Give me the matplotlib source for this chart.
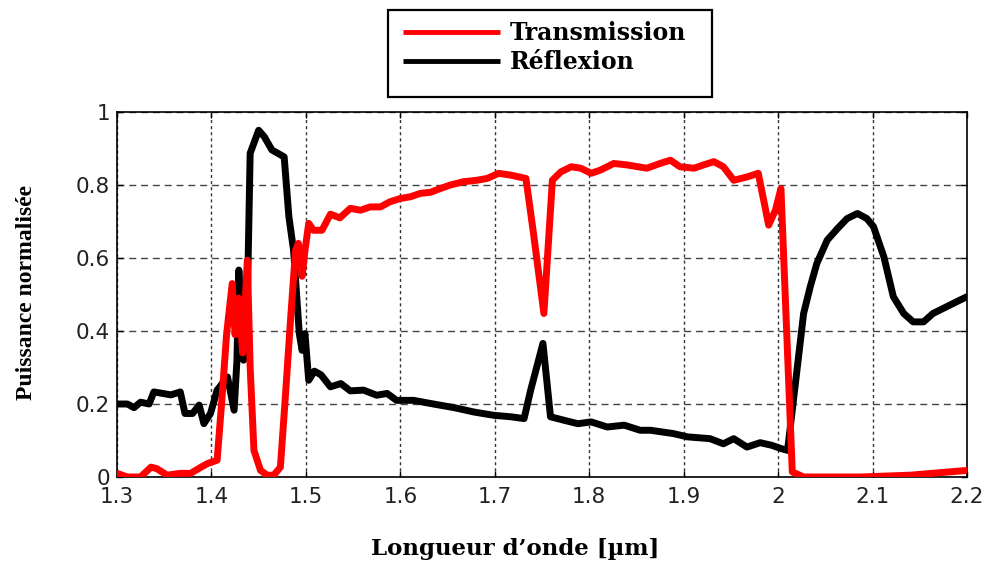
import matplotlib
matplotlib.use("Agg")
import matplotlib.pyplot as plt
from matplotlib.patches import Rectangle

# ---- data ----
wl_T = [1.300, 1.311, 1.325, 1.336, 1.342, 1.353, 1.367, 1.378, 1.389, 1.396,
        1.406, 1.411, 1.416, 1.422, 1.425, 1.429, 1.433, 1.438, 1.441, 1.445,
        1.452, 1.459, 1.466, 1.473, 1.478, 1.484, 1.489, 1.492, 1.496, 1.499,
        1.503, 1.508, 1.517, 1.526, 1.536, 1.547, 1.558, 1.568, 1.579, 1.589,
        1.600, 1.611, 1.621, 1.632, 1.642, 1.653, 1.667, 1.681, 1.692, 1.704,
        1.717, 1.733, 1.741, 1.752, 1.761, 1.770, 1.781, 1.791, 1.802, 1.812,
        1.826, 1.840, 1.861, 1.875, 1.886, 1.896, 1.911, 1.921, 1.932, 1.942,
        1.953, 1.967, 1.979, 1.990, 1.997, 2.003, 2.015, 2.027, 2.087, 2.140,
        2.200]
transmission = [0.010, 0.000, 0.000, 0.027, 0.023, 0.005, 0.010, 0.010, 0.027, 0.037,
                0.046, 0.21, 0.39, 0.53, 0.39, 0.49, 0.34, 0.594, 0.30, 0.073,
                0.018, 0.005, 0.005, 0.027, 0.21, 0.44, 0.62, 0.64, 0.55, 0.62,
                0.695, 0.676, 0.676, 0.72, 0.71, 0.736, 0.731, 0.74, 0.74, 0.754,
                0.763, 0.768, 0.777, 0.78, 0.79, 0.80, 0.809, 0.813, 0.818, 0.832,
                0.827, 0.818, 0.667, 0.448, 0.813, 0.836, 0.85, 0.846, 0.832, 0.841,
                0.859, 0.855, 0.846, 0.859, 0.868, 0.85, 0.846, 0.855, 0.864, 0.85,
                0.813, 0.822, 0.832, 0.69, 0.73, 0.79, 0.014, 0.0, 0.0, 0.005,
                0.018]

wl_R = [1.300, 1.311, 1.318, 1.325, 1.334, 1.339, 1.346, 1.357, 1.367, 1.372,
        1.380, 1.387, 1.392, 1.399, 1.406, 1.417, 1.424, 1.427, 1.429, 1.434,
        1.438, 1.441, 1.450, 1.456, 1.464, 1.477, 1.482, 1.487, 1.493, 1.496,
        1.499, 1.503, 1.509, 1.516, 1.526, 1.537, 1.547, 1.561, 1.575, 1.586,
        1.596, 1.614, 1.635, 1.657, 1.678, 1.699, 1.717, 1.731, 1.738, 1.751,
        1.759, 1.774, 1.788, 1.802, 1.819, 1.837, 1.854, 1.865, 1.889, 1.904,
        1.928, 1.942, 1.953, 1.967, 1.981, 1.993, 2.003, 2.010, 2.027, 2.034,
        2.041, 2.052, 2.063, 2.073, 2.084, 2.094, 2.101, 2.112, 2.122, 2.133,
        2.143, 2.154, 2.164, 2.178, 2.192, 2.200]
reflexion = [0.20, 0.20, 0.19, 0.205, 0.20, 0.233, 0.23, 0.225, 0.233, 0.174,
             0.174, 0.197, 0.146, 0.174, 0.238, 0.274, 0.183, 0.32, 0.567, 0.32,
             0.48, 0.887, 0.95, 0.932, 0.896, 0.877, 0.713, 0.62, 0.393, 0.347,
             0.393, 0.265, 0.29, 0.28, 0.247, 0.256, 0.236, 0.238, 0.224, 0.229,
             0.21, 0.21, 0.20, 0.19, 0.178, 0.169, 0.165, 0.16, 0.238, 0.366,
             0.165, 0.155, 0.146, 0.151, 0.137, 0.142, 0.128, 0.128, 0.119, 0.11,
             0.105, 0.091, 0.105, 0.082, 0.094, 0.087, 0.078, 0.073, 0.448, 0.521,
             0.585, 0.649, 0.681, 0.708, 0.722, 0.708, 0.686, 0.603, 0.494, 0.448,
             0.425, 0.425, 0.448, 0.466, 0.484, 0.494]

labels = ["Transmission", "Réflexion"]
xticks = [1.3, 1.4, 1.5, 1.6, 1.7, 1.8, 1.9, 2.0, 2.1, 2.2]
xticklabels = ["1.3", "1.4", "1.5", "1.6", "1.7", "1.8", "1.9", "2", "2.1", "2.2"]
yticks = [0, 0.2, 0.4, 0.6, 0.8, 1.0]
yticklabels = ["0", "0.2", "0.4", "0.6", "0.8", "1"]

W, H = 990, 562
fig = plt.figure(figsize=(W / 100, H / 100), dpi=100)
ax = fig.add_axes([117 / W, 1 - 477 / H, (967 - 117) / W, (477 - 112) / H])

lR, = ax.plot(wl_R, reflexion, color="black", lw=5, solid_joinstyle="round",
              solid_capstyle="round", zorder=3)
lT, = ax.plot(wl_T, transmission, color="#ff0000", lw=5, solid_joinstyle="round",
              solid_capstyle="round", zorder=4)

ax.set_xlim(1.3, 2.2)
ax.set_ylim(0, 1)
ax.set_xticks(xticks)
ax.set_xticklabels(xticklabels)
ax.set_yticks(yticks)
ax.set_yticklabels(yticklabels)
ax.tick_params(direction="in", top=True, right=True, length=4, width=1,
               labelsize=15.5, colors="black")
ax.tick_params(axis="x", pad=7)
ax.tick_params(axis="y", pad=5)
for lab in ax.get_xticklabels() + ax.get_yticklabels():
    lab.set_fontfamily("DejaVu Sans")
    lab.set_color("#222222")

ax.xaxis.grid(True, linestyle=(0, (2.2, 2.2)), color="#333333", lw=1.0)
ax.yaxis.grid(True, linestyle=(0, (5, 3.5)), color="#444444", lw=1.0)
ax.set_axisbelow(True)
for s in ax.spines.values():
    s.set_linewidth(1.2)
    s.set_color("black")

ax.set_xlabel("Longueur d’onde [µm]", fontfamily="DejaVu Serif", fontweight="bold",
              fontsize=16.5, va="center")
ax.xaxis.set_label_coords((515 - 117) / 850, (477 - 549) / 365)
ax.set_ylabel("Puissance normalisée", fontfamily="Liberation Serif", fontweight="bold",
              fontsize=17, va="center")
ax.yaxis.set_label_coords((27 - 117) / 850, (477 - 293) / 365)

# legend outside the axes, in its own box
leg = fig.legend([lT, lR], labels, loc="upper left",
                 bbox_to_anchor=(403 / W, 1 - 21 / H), frameon=False,
                 borderpad=0, borderaxespad=0, handlelength=4.1, handletextpad=0.42,
                 labelspacing=0.22,
                 prop={"family": "DejaVu Serif", "weight": "bold", "size": 17})
for h in leg.get_lines():
    h.set_linewidth(3.5)
    h.set_solid_capstyle("butt")
fig.patches.append(Rectangle((388 / W, 1 - 97 / H), (712 - 388) / W, (97 - 10) / H,
                             transform=fig.transFigure, fill=False, lw=1.6,
                             ec="black"))

fig.savefig("out.png", dpi=100)
